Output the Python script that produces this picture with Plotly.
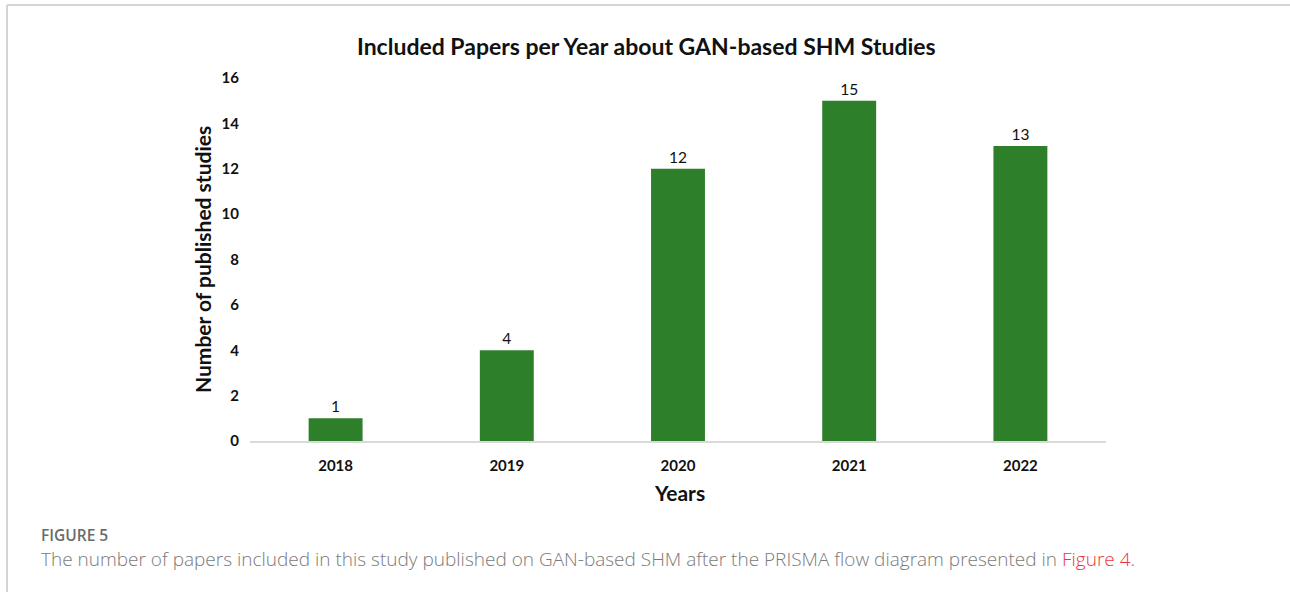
import plotly.graph_objects as go

years = ["2018", "2019", "2020", "2021", "2022"]
papers = [1, 4, 12, 15, 13]
y_ticks = [0, 2, 4, 6, 8, 10, 12, 14, 16]

title = "Included Papers per Year about GAN-based SHM Studies"
y_title = "Number of published studies"
x_title = "Years"
fig_label = "FIGURE 5"
caption = ("The number of papers included in this study published on GAN-based SHM "
           "after the PRISMA flow diagram presented in ")
caption_link = "Figure 4"

W, H = 1290, 592
L, R, T, B = 250, 1106, 78, 441
pw, ph = R - L, B - T

def px(x):
    return (x - L) / pw

def py(y):
    return (B - y) / ph

FONT = "Lato, Carlito, Calibri, sans-serif"

fig = go.Figure(go.Bar(
    x=years, y=papers, width=0.315,
    marker=dict(color="#2e7f2a", line=dict(width=0)),
    text=[str(v) for v in papers], textposition="outside",
    textfont=dict(family=FONT, size=15.5, color="#111111"),
    cliponaxis=False,
))

fig.update_layout(
    width=W, height=H,
    margin=dict(l=L, r=W - R, t=T, b=H - B),
    paper_bgcolor="white", plot_bgcolor="white",
    showlegend=False,
    bargap=0.685,
    xaxis=dict(showgrid=False, showline=True, linecolor="#d9d9d9", linewidth=1.5,
               ticks="", tickfont=dict(family=FONT, size=15, color="#111111", weight="bold"),
               ticklabelstandoff=10, fixedrange=True),
    yaxis=dict(range=[0, 16], tickvals=y_ticks, showgrid=False, zeroline=False,
               showline=False, ticks="",
               tickfont=dict(family=FONT, size=15, color="#111111", weight="bold"),
               ticklabelstandoff=10, fixedrange=True),
)

annotations = [
    dict(text=f"<b>{title}</b>", x=px(646), y=py(46), xref="paper", yref="paper",
         showarrow=False, xanchor="center", yanchor="middle",
         font=dict(family=FONT, size=23, color="#111111")),
    dict(text=f"<b>{y_title}</b>", x=px(202), y=py(260), xref="paper", yref="paper",
         showarrow=False, textangle=-90, xanchor="center", yanchor="middle",
         font=dict(family=FONT, size=21, color="#111111")),
    dict(text=f"<b>{x_title}</b>", x=px(679), y=py(492), xref="paper", yref="paper",
         showarrow=False, xanchor="center", yanchor="middle",
         font=dict(family=FONT, size=21, color="#111111")),
    dict(text=fig_label, x=px(39), y=py(535), xref="paper", yref="paper",
         showarrow=False, xanchor="left", yanchor="middle",
         font=dict(family="Open Sans, sans-serif", size=15.5, color="#6b6b6b", weight=600)),
    dict(text=caption + f"<span style='color:#e8383d'>{caption_link}</span>.",
         x=px(39), y=py(559), xref="paper", yref="paper",
         showarrow=False, xanchor="left", yanchor="middle",
         font=dict(family="Open Sans, sans-serif", size=19, color="#7a7a7a", weight=300)),
]
fig.update_layout(annotations=annotations)

fig.add_shape(type="line", xref="paper", yref="paper",
              x0=px(7), x1=px(1290), y0=py(5), y1=py(5),
              line=dict(color="#d4d4d4", width=2))
fig.add_shape(type="line", xref="paper", yref="paper",
              x0=px(7), x1=px(7), y0=py(5), y1=py(592),
              line=dict(color="#d4d4d4", width=2))

fig.write_html("out.html", config={"displayModeBar": False},
               post_script="document.body.style.margin='0';document.body.style.overflow='hidden';")
